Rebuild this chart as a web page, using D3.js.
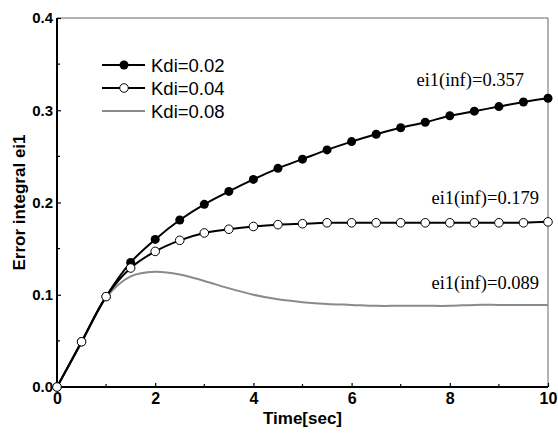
<!DOCTYPE html>
<html>
<head>
<meta charset="utf-8">
<script src="https://cdn.jsdelivr.net/npm/d3@7"></script>
<style>
  body { margin: 0; background: #fff; }
  svg { display: block; }
  .tick text { font-family: "Liberation Sans", Arial, sans-serif; font-weight: bold; }
</style>
</head>
<body>
<svg id="chart" width="558" height="435"></svg>
<script>
/* data */
var times = [0, 0.5, 1, 1.5, 2, 2.5, 3, 3.5, 4, 4.5, 5, 5.5, 6, 6.5, 7, 7.5, 8, 8.5, 9, 9.5, 10];
var kdi002 = [0, 0.049, 0.098, 0.135, 0.160, 0.181, 0.198, 0.212, 0.225, 0.237, 0.247, 0.257, 0.266, 0.274, 0.281, 0.287, 0.294, 0.299, 0.304, 0.309, 0.313];
var kdi004 = [0, 0.049, 0.098, 0.129, 0.147, 0.159, 0.167, 0.171, 0.174, 0.176, 0.177, 0.178, 0.178, 0.178, 0.178, 0.178, 0.178, 0.178, 0.178, 0.178, 0.179];
var kdi008 = [0, 0.048, 0.097, 0.120, 0.125, 0.122, 0.115, 0.107, 0.100, 0.095, 0.092, 0.090, 0.089, 0.088, 0.088, 0.088, 0.088, 0.089, 0.089, 0.089, 0.089];
var legendLabels = ["Kdi=0.02", "Kdi=0.04", "Kdi=0.08"];
var notes = ["ei1(inf)=0.357", "ei1(inf)=0.179", "ei1(inf)=0.089"];
var xTicks = [0, 2, 4, 6, 8, 10];
var yTicks = [0, 0.1, 0.2, 0.3, 0.4];

var svg = d3.select("#chart");
var pLeft = 57, pRight = 548, pTop = 18, pBottom = 387;
var sansFont = "Liberation Sans, Arial, sans-serif";

var x = d3.scaleLinear().domain([0, 10]).range([pLeft, pRight]);
var y = d3.scaleLinear().domain([0, 0.4]).range([pBottom, pTop]);

// frame: top and right in grey
svg.append("line").attr("x1", pLeft).attr("x2", pRight).attr("y1", pTop).attr("y2", pTop)
  .attr("stroke", "#666").attr("stroke-width", 1);
svg.append("line").attr("x1", pRight).attr("x2", pRight).attr("y1", pTop).attr("y2", pBottom)
  .attr("stroke", "#666").attr("stroke-width", 1);

// minor ticks
var xMinor = d3.range(1, 10, 2);
var yMinor = [0.05, 0.15, 0.25, 0.35];

var xAxis = d3.axisBottom(x).tickValues(xTicks).tickFormat(d3.format("d")).tickSize(-4).tickPadding(5);
var gx = svg.append("g").attr("transform", "translate(0," + pBottom + ")").call(xAxis);
gx.selectAll(".tick text").attr("font-size", 16).attr("dy", "0.75em");
gx.selectAll(".tick line").attr("stroke-width", 1.2);
gx.select(".domain").attr("stroke-width", 2).attr("d", "M" + pLeft + ",0H" + pRight);
gx.selectAll(".minor").data(xMinor).enter().append("line").attr("class", "minor")
  .attr("x1", d => x(d)).attr("x2", d => x(d)).attr("y1", 0).attr("y2", -3)
  .attr("stroke", "#000").attr("stroke-width", 1.2);

var yAxis = d3.axisLeft(y).tickValues(yTicks).tickFormat(d3.format(".1f")).tickSize(-4).tickPadding(4);
var gy = svg.append("g").attr("transform", "translate(" + pLeft + ",0)").call(yAxis);
gy.selectAll(".tick text").attr("font-size", 15);
gy.selectAll(".tick line").attr("stroke-width", 1.2);
gy.select(".domain").attr("stroke-width", 2).attr("d", "M0," + pBottom + "V" + pTop);
gy.selectAll(".minor").data(yMinor).enter().append("line").attr("class", "minor")
  .attr("y1", d => y(d)).attr("y2", d => y(d)).attr("x1", 0).attr("x2", 3)
  .attr("stroke", "#000").attr("stroke-width", 1.2);

// axis titles
svg.append("text").attr("x", (pLeft + pRight) / 2).attr("y", 424)
  .attr("text-anchor", "middle").attr("font-family", sansFont)
  .attr("font-weight", "bold").attr("font-size", 17).text("Time[sec]");
svg.append("text").attr("transform", "translate(25," + ((pTop + pBottom) / 2) + ") rotate(-90)")
  .attr("text-anchor", "middle").attr("font-family", sansFont)
  .attr("font-weight", "bold").attr("font-size", 17).text("Error integral ei1");

// curves
var line = d3.line().x(d => x(d[0])).y(d => y(d[1])).curve(d3.curveCatmullRom.alpha(0.5));
function pairs(vals) { return times.map((t, i) => [t, vals[i]]); }

svg.append("path").datum(pairs(kdi008)).attr("d", line)
  .attr("fill", "none").attr("stroke", "#8a8a8a").attr("stroke-width", 2);
svg.append("path").datum(pairs(kdi002)).attr("d", line)
  .attr("fill", "none").attr("stroke", "#000").attr("stroke-width", 2);
svg.append("path").datum(pairs(kdi004)).attr("d", line)
  .attr("fill", "none").attr("stroke", "#000").attr("stroke-width", 2);

svg.append("g").selectAll("circle").data(pairs(kdi002)).enter().append("circle")
  .attr("cx", d => x(d[0])).attr("cy", d => y(d[1])).attr("r", 4.5)
  .attr("fill", "#000");
svg.append("g").selectAll("circle").data(pairs(kdi004)).enter().append("circle")
  .attr("cx", d => x(d[0])).attr("cy", d => y(d[1])).attr("r", 4.3)
  .attr("fill", "#fff").attr("stroke", "#000").attr("stroke-width", 1);

// legend
var legendY = [65, 88, 111];
var lg = svg.append("g");
legendLabels.forEach(function (lab, i) {
  lg.append("line").attr("x1", 102).attr("x2", 145).attr("y1", legendY[i]).attr("y2", legendY[i])
    .attr("stroke", i == 2 ? "#8a8a8a" : "#000").attr("stroke-width", 2);
  if (i == 0) lg.append("circle").attr("cx", 124).attr("cy", legendY[i]).attr("r", 4.5).attr("fill", "#000");
  if (i == 1) lg.append("circle").attr("cx", 124).attr("cy", legendY[i]).attr("r", 4.3)
    .attr("fill", "#fff").attr("stroke", "#000");
  lg.append("text").attr("x", 151).attr("y", legendY[i] + 6.5)
    .attr("font-family", sansFont).attr("font-size", 18.5).text(lab);
});

// annotations
var noteX = [524, 539, 539];
var noteY = [86, 204, 289];
notes.forEach(function (n, i) {
  svg.append("text").attr("x", noteX[i]).attr("y", noteY[i]).attr("text-anchor", "end")
    .attr("font-family", "Liberation Serif, Times New Roman, serif").attr("font-size", 18.5).text(n);
});
</script>
</body>
</html>
